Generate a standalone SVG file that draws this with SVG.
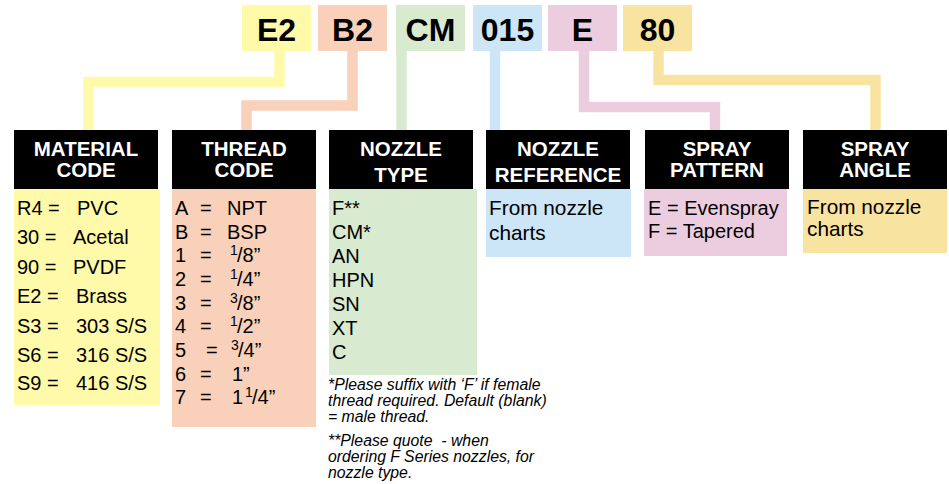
<svg xmlns="http://www.w3.org/2000/svg" width="949" height="484" viewBox="0 0 949 484">
<style>
.code{font-family:"Liberation Sans",Arial,sans-serif;font-weight:bold;font-size:32px;fill:#000;text-anchor:middle}
.hd{font-family:"Liberation Sans",Arial,sans-serif;font-weight:bold;font-size:20.5px;fill:#fff;text-anchor:middle}
.bd{font-family:"Liberation Sans",Arial,sans-serif;font-size:20px;fill:#000}
.bl{font-family:"Liberation Sans",Arial,sans-serif;font-size:20.8px;fill:#000}
.sup{font-family:"Liberation Sans",Arial,sans-serif;font-size:14px;fill:#000}
.nt{font-family:"Liberation Sans",Arial,sans-serif;font-style:italic;font-size:15.8px;fill:#000;white-space:pre}
.conn{fill:none;stroke-width:10.5;stroke-linejoin:miter;stroke-linecap:butt}
.y{fill:#FFF9AA}.p{fill:#F9D0B9}.g{fill:#D8EACF}.b{fill:#CCE6F7}.k{fill:#ECCDE0}.t{fill:#F8E3A0}
</style>
<rect width="949" height="484" fill="#fff"/>
<g id="connectors">
<path class="conn" stroke="#FFF9AA" d="M279.5,51 V82 H88.5 V132"/>
<path class="conn" stroke="#F9D0B9" d="M352.5,51 V105.5 H246.5 V132"/>
<path class="conn" stroke="#D8EACF" d="M401.5,51 V132"/>
<path class="conn" stroke="#CCE6F7" d="M495,51 V132"/>
<path class="conn" stroke="#ECCDE0" d="M584,51 V107 H715 V132"/>
<path class="conn" stroke="#F8E3A0" d="M658.5,51 V80 H875.5 V132"/>
</g>
<g id="code-E2"><rect class="y" x="242" y="5" width="69" height="46"/><text class="code" x="276.5" y="41">E2</text></g>
<g id="code-B2"><rect class="p" x="318" y="5" width="69" height="46"/><text class="code" x="352.5" y="41">B2</text></g>
<g id="code-CM"><rect class="g" x="396" y="5" width="69" height="46"/><text class="code" x="430.5" y="41">CM</text></g>
<g id="code-015"><rect class="b" x="473" y="5" width="69" height="46"/><text class="code" x="507.5" y="41">015</text></g>
<g id="code-E"><rect class="k" x="548" y="5" width="69" height="46"/><text class="code" x="582.5" y="41">E</text></g>
<g id="code-80"><rect class="t" x="623" y="5" width="69" height="46"/><text class="code" x="657.5" y="41">80</text></g>

<g id="material-code">
<rect class="y" x="14" y="189" width="146" height="216"/>
<rect x="14" y="130" width="144" height="59" fill="#000"/>
<text class="hd" x="86" y="156">MATERIAL</text>
<text class="hd" x="86" y="177">CODE</text>
<text class="bd" x="17" y="215">R4 =</text><text class="bd" x="77" y="215">PVC</text>
<text class="bd" x="17" y="244">30 =</text><text class="bd" x="73" y="244">Acetal</text>
<text class="bd" x="17" y="274">90 =</text><text class="bd" x="73" y="274">PVDF</text>
<text class="bd" x="17" y="303">E2 =</text><text class="bd" x="76" y="303">Brass</text>
<text class="bd" x="17" y="333">S3 =</text><text class="bd" x="76" y="333">303 S/S</text>
<text class="bd" x="17" y="362">S6 =</text><text class="bd" x="76" y="362">316 S/S</text>
<text class="bd" x="17" y="390">S9 =</text><text class="bd" x="76" y="390">416 S/S</text>
</g>

<g id="thread-code">
<rect class="p" x="172" y="189" width="144" height="238"/>
<rect x="172" y="130" width="144" height="59" fill="#000"/>
<text class="hd" x="244" y="156">THREAD</text>
<text class="hd" x="244" y="177">CODE</text>
<text class="bd" x="175" y="215">A</text><text class="bd" x="200" y="215">=</text><text class="bd" x="227" y="215">NPT</text>
<text class="bd" x="175" y="238.5">B</text><text class="bd" x="200" y="238.5">=</text><text class="bd" x="227" y="238.5">BSP</text>
<text class="bd" x="175" y="262">1</text><text class="bd" x="200" y="262">=</text><text class="sup" x="230" y="255">1</text><text class="bd" x="237" y="262">/8”</text>
<text class="bd" x="175" y="286">2</text><text class="bd" x="200" y="286">=</text><text class="sup" x="230" y="279">1</text><text class="bd" x="237" y="286">/4”</text>
<text class="bd" x="175" y="309.5">3</text><text class="bd" x="200" y="309.5">=</text><text class="sup" x="230" y="302.5">3</text><text class="bd" x="237" y="309.5">/8”</text>
<text class="bd" x="175" y="333">4</text><text class="bd" x="200" y="333">=</text><text class="sup" x="230" y="326">1</text><text class="bd" x="237" y="333">/2”</text>
<text class="bd" x="175" y="357">5</text><text class="bd" x="206" y="357">=</text><text class="sup" x="231" y="350">3</text><text class="bd" x="238" y="357">/4”</text>
<text class="bd" x="175" y="380.5">6</text><text class="bd" x="200" y="380.5">=</text><text class="bd" x="232" y="380.5">1”</text>
<text class="bd" x="175" y="404">7</text><text class="bd" x="200" y="404">=</text><text class="bd" x="232" y="404">1</text><text class="sup" x="245" y="397">1</text><text class="bd" x="252" y="404">/4”</text>
</g>

<g id="nozzle-type">
<rect class="g" x="329" y="189" width="148" height="186"/>
<rect x="329" y="130" width="144" height="59" fill="#000"/>
<text class="hd" x="401" y="156">NOZZLE</text>
<text class="hd" x="401" y="182">TYPE</text>
<text class="bd" x="332" y="215">F**</text>
<text class="bd" x="332" y="239">CM*</text>
<text class="bd" x="332" y="263">AN</text>
<text class="bd" x="332" y="287">HPN</text>
<text class="bd" x="332" y="311">SN</text>
<text class="bd" x="332" y="334.5">XT</text>
<text class="bd" x="332" y="359">C</text>
</g>

<g id="nozzle-notes">
<text class="nt" x="328" y="390">*Please suffix with ‘F’ if female</text>
<text class="nt" x="328" y="406">thread required. Default (blank)</text>
<text class="nt" x="328" y="422">= male thread.</text>
<text class="nt" x="328" y="446">**Please quote  - when</text>
<text class="nt" x="328" y="462">ordering F Series nozzles, for</text>
<text class="nt" x="328" y="478">nozzle type.</text>
</g>

<g id="nozzle-reference">
<rect class="b" x="486" y="189" width="145" height="68"/>
<rect x="486" y="130" width="144" height="59" fill="#000"/>
<text class="hd" x="558" y="156">NOZZLE</text>
<text class="hd" x="558" y="182">REFERENCE</text>
<text class="bl" x="489" y="215">From nozzle</text>
<text class="bl" x="489" y="240">charts</text>
</g>

<g id="spray-pattern">
<rect class="k" x="644" y="189" width="143" height="67"/>
<rect x="645" y="130" width="144" height="59" fill="#000"/>
<text class="hd" x="717" y="156">SPRAY</text>
<text class="hd" x="717" y="177">PATTERN</text>
<text class="bd" x="648" y="215">E = Evenspray</text>
<text class="bd" x="648" y="238">F = Tapered</text>
</g>

<g id="spray-angle">
<rect class="t" x="803" y="189" width="144" height="64"/>
<rect x="803" y="130" width="144" height="59" fill="#000"/>
<text class="hd" x="875" y="156">SPRAY</text>
<text class="hd" x="875" y="177">ANGLE</text>
<text class="bl" x="807" y="214">From nozzle</text>
<text class="bl" x="807" y="236">charts</text>
</g>
</svg>
